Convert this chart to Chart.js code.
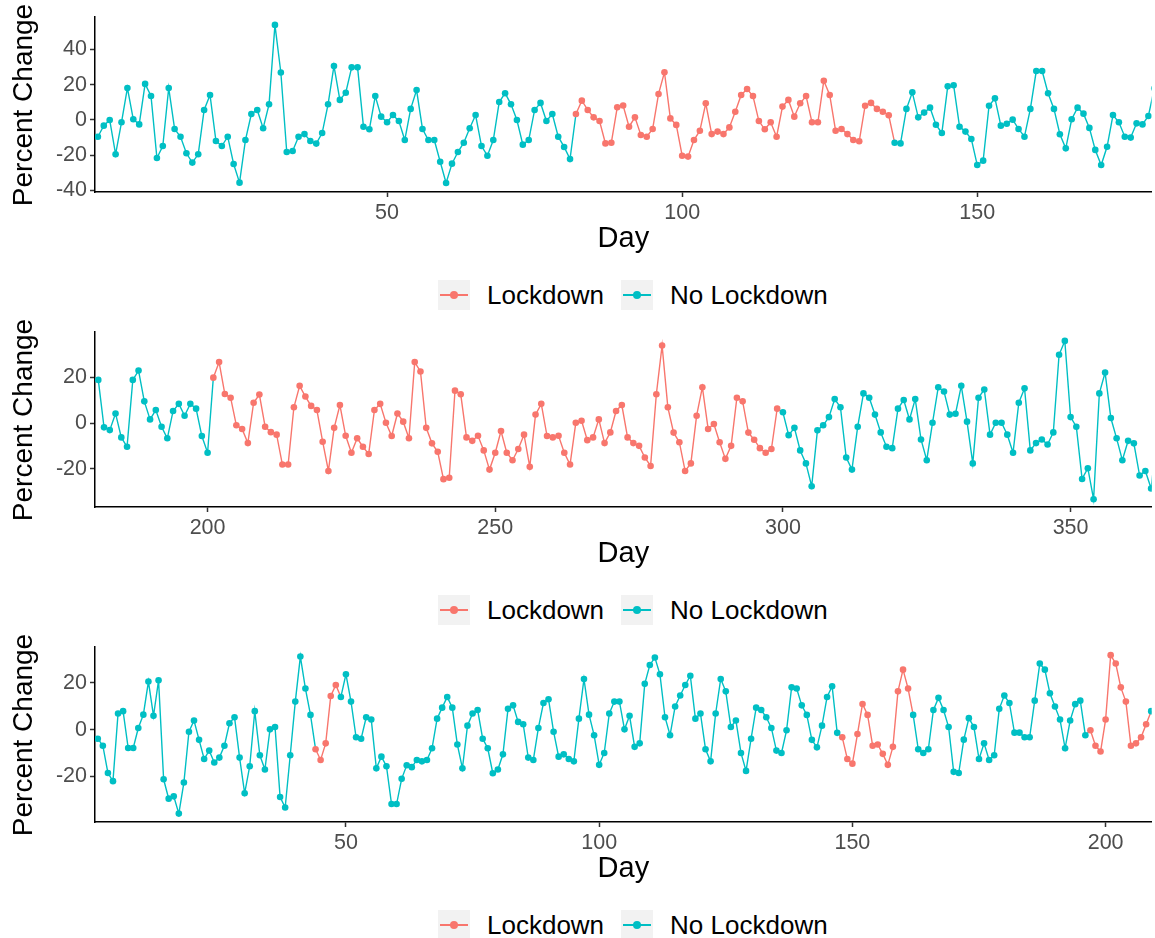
<!DOCTYPE html>
<html>
<head>
<meta charset="utf-8">
<script src="https://cdn.jsdelivr.net/npm/chart.js@4.4.0/dist/chart.umd.min.js"></script>
<style>
body { margin:0; background:#fff; width:1155px; height:938px; position:relative; overflow:hidden; font-family:"Liberation Sans", Arial, sans-serif; }
.panel { position:absolute; left:0; width:1155px; height:260px; }
.panel canvas { position:absolute; left:0; top:0; }
.ytitle { position:absolute; left:-127px; top:89px; width:300px; height:32px; line-height:32px; text-align:center; font-size:28px; color:#000; transform:rotate(-90deg); white-space:nowrap; }
.legend { position:absolute; left:438px; height:32px; display:flex; align-items:center; font-size:26px; color:#000; }
.key { width:32px; height:30px; background:#f2f2f2; position:relative; margin-right:17px; }
.key .ln { position:absolute; left:2px; right:2px; top:14px; height:1.5px; }
.key .dot { position:absolute; left:12px; top:11px; width:8px; height:8px; border-radius:50%; }
.gap { width:17px; }
</style>
</head>
<body>

<div class="panel" style="top:0px"><canvas id="c1" width="1155" height="260"></canvas><div class="ytitle">Percent Change</div></div>
<div class="legend" style="top:279px"><div class="key"><div class="ln" style="background:#F8766D"></div><div class="dot" style="background:#F8766D"></div></div><span>Lockdown</span><div class="gap"></div><div class="key"><div class="ln" style="background:#00BFC4"></div><div class="dot" style="background:#00BFC4"></div></div><span>No Lockdown</span></div>

<div class="panel" style="top:315px"><canvas id="c2" width="1155" height="260"></canvas><div class="ytitle">Percent Change</div></div>
<div class="legend" style="top:594px"><div class="key"><div class="ln" style="background:#F8766D"></div><div class="dot" style="background:#F8766D"></div></div><span>Lockdown</span><div class="gap"></div><div class="key"><div class="ln" style="background:#00BFC4"></div><div class="dot" style="background:#00BFC4"></div></div><span>No Lockdown</span></div>

<div class="panel" style="top:630px"><canvas id="c3" width="1155" height="260"></canvas><div class="ytitle">Percent Change</div></div>
<div class="legend" style="top:909px"><div class="key"><div class="ln" style="background:#F8766D"></div><div class="dot" style="background:#F8766D"></div></div><span>Lockdown</span><div class="gap"></div><div class="key"><div class="ln" style="background:#00BFC4"></div><div class="dot" style="background:#00BFC4"></div></div><span>No Lockdown</span></div>

<script>
// first panel: days 1..180
var start1 = 1;
var values1 = [-9.5,-3.2,0,-19.5,-1.3,18.2,0.4,-2.5,20.5,13.6,
  -21.6,-14.8,18.2,-5.1,-9.5,-18.9,-24.2,-19.5,5.7,14.2,
  -11.9,-14.8,-9.5,-25,-35.6,-11.4,3.4,5.7,-4.7,8.9,
  54,27,-18.2,-17.6,-9.5,-8,-11.9,-13.4,-7.4,8.9,
  30.7,11.4,15.5,29.9,29.9,-3.8,-5.3,13.6,1.9,-1.3,
  2.8,-0.6,-11.4,6.3,17,-5.1,-11.4,-11.4,-23.7,-35.8,
  -24.8,-18.2,-12.9,-4.7,2.8,-14.8,-20.3,-11.4,10.2,15.2,
  8.9,0,-14,-11.4,5.7,9.7,-0.6,3.4,-9.5,-15.3,
  -22.2,3.4,11,5.7,1.5,-0.6,-13.3,-12.9,7.2,8.2,
  -3.8,1.5,-8.5,-9.5,-5.1,14.8,27.1,0.9,-2.8,-20.3,
  -20.8,-11.4,-6.1,9.5,-8,-6.6,-8,-4.2,4.7,14.2,
  17.6,13.6,-0.6,-5.3,-1.3,-9.5,7.6,11.4,1.9,9.5,
  13.6,-1.3,-1.3,22.3,14.2,-6.1,-5.1,-8,-11.4,-12.1,
  8.1,9.7,6.3,4.7,2.7,-12.9,-13.3,6.3,15.7,1.5,
  4.2,7,-2.7,-7.4,19.1,19.7,-3.8,-6.6,-10.8,-25.6,
  -23.1,8.1,12.3,-3.2,-2.1,0.2,-5.1,-9.5,6.3,27.8,
  27.8,15.2,6.3,-8.1,-16.1,0.4,7,3.6,-4.5,-17,
  -25.6,-15.2,2.8,-1.3,-9.5,-10,-1.9,-2.5,2.3,18];
var lockdown1 = [[82, 135]];
var xTicks1 = [50, 100, 150];
var yTicks1 = [-40, -20, 0, 20, 40];

// second panel: days 181..365
var start2 = 181;
var values2 = [18.9,-1.9,-3.1,4.2,-6.3,-10.4,18.9,23,9.5,1.6,
  5.7,-1.6,-6.7,5.3,8.4,3.2,8.4,6.3,-5.7,-13,
  19.9,26.7,12.7,11.1,-1,-2.6,-8.8,8.9,12.5,-1.6,
  -4,-5.1,-18.2,-18.2,6.9,16.3,11.6,7.5,5.7,-8.2,
  -21,-2.1,7.9,-5.6,-13,-6.7,-10.4,-13.6,5.7,8.4,
  0.1,-5.7,4.2,0.6,-6.7,26.7,22.6,-2.1,-8.9,-12.6,
  -24.6,-24,14.2,12.6,-6.3,-7.8,-5.6,-12,-20.4,-13,
  -3.5,-13,-16.3,-11.4,-5.1,-19.2,3.7,8.4,-5.7,-6.3,
  -5.6,-13,-18.2,0.1,1,-7.5,-6.3,1.6,-8.8,-4.1,
  5.3,7.9,-6.3,-8.8,-10,-15.1,-18.8,12.6,34,6.9,
  -4.2,-8.4,-21,-17.7,3.2,15.7,-2.6,-0.4,-8.4,-15.7,
  -10,11.1,9.5,-4.2,-7.3,-11,-13,-11.4,6.3,4.7,
  -5.3,-2.1,-12,-17.7,-27.7,-3.2,-1,2.6,10.5,6.9,
  -15.1,-20.4,-1.6,13,11.1,3.7,-4.1,-10.4,-11,6.3,
  10.1,1.6,10.5,-7.2,-16.3,0.1,15.7,13.8,3.7,4.1,
  16.3,0.6,-17.7,11.1,14.7,-5.1,0.1,0.1,-5.1,-13,
  8.9,15.2,-12,-8.8,-7.2,-9.4,-4.1,29.9,36,2.6,
  -1.6,-24.5,-19.8,-33.4,13,22.1,2.2,-6.7,-16.3,-7.8,
  -8.9,-23,-21,-28.7,-6];
var lockdown2 = [[201, 299]];
var xTicks2 = [200, 250, 300, 350];
var yTicks2 = [-20, 0, 20];

// third panel: days 1..209
var start3 = 1;
var values3 = [-3.9,-6.9,-18.6,-22.1,6.9,7.9,-7.9,-7.9,0.7,6.4,
  20.6,5.9,21.1,-21.3,-29.6,-28.6,-36,-22.7,-0.9,3.9,
  -4.4,-12.6,-9,-14.1,-12,-6.9,2.7,5.3,-12,-27.3,
  -15.7,7.9,-11,-17.1,0.1,1.1,-28.9,-33.4,-11,12,
  31.3,17.6,6.3,-8.4,-13,-5.9,14.4,19.1,14,23.7,
  12,-3.3,-3.9,5.3,4.3,-16.6,-11.6,-15.7,-31.9,-31.9,
  -21.1,-15.3,-16.1,-13,-13.6,-13,-8,4.7,9.4,14,
  9.4,-6.4,-16.6,1.7,6.9,8.4,-3.9,-8,-18.7,-17.1,
  -10.6,8.9,10.4,3.3,2.3,-12,-13,0.7,11.4,13,
  -0.9,-11.6,-10.6,-12.6,-13.6,4.7,21.7,6.4,-2.4,-15.1,
  -10,6.9,12,12,0.1,5.9,-7.4,-5.9,19.6,27.7,
  30.9,23.7,5.3,-2.4,9.9,14.6,19.1,23.1,4.7,6.9,
  -8.4,-13.6,6.9,21.7,16.4,1.1,3.9,-10,-17.7,-3.9,
  9.4,8.4,5.3,0.7,-9,-10,-0.3,18.1,17.6,10.4,
  6.3,-4.4,-7.6,1.7,14,18.6,-1.4,-3.3,-12.6,-14.6,
  -1.9,11,6.3,-6.9,-6.4,-10.4,-15.1,-7.4,16.4,25.7,
  17.6,6.3,-8.4,-10,-8.4,8.4,13.6,8.4,1.1,-18.1,
  -18.6,-4.3,4.9,1.1,-12.6,-5.9,-13,-11,8.9,14.6,
  11.4,-1.3,-1.3,-3.3,-3.3,12.4,28.3,25.7,15.6,9.9,
  4.3,-8,3.9,10.9,12.4,-2.4,-0.3,-6.9,-9.4,4.3,
  31.9,28.3,18.1,12,-6.9,-5.9,-3.3,2.3,7.9];
var lockdown3 = [[44, 48], [148, 161], [197, 208]];
var xTicks3 = [50, 100, 150, 200];
var yTicks3 = [-20, 0, 20];

var RED = '#F8766D';
var CYAN = '#00BFC4';
var FONT = '"Liberation Sans", Arial, sans-serif';

function isLockdown(day, ranges) {
    for (let r of ranges) {
        if (day >= r[0] && day <= r[1]) return true;
    }
    return false;
}

function drawPanel(id, start, values, ranges, xr, xTicks, yr, yTicks) {
    let pts = [];
    let cols = [];
    for (let i in values) {
        let day = start + Number(i);
        pts.push({x: day, y: values[i]});
        cols.push(isLockdown(day, ranges) ? RED : CYAN);
    }
    new Chart(document.getElementById(id), {
        type: 'line',
        data: {
            datasets: [{
                data: pts,
                borderWidth: 1.4,
                borderColor: CYAN,
                segment: { borderColor: ctx => cols[ctx.p0DataIndex] },
                pointRadius: 3.3,
                pointHoverRadius: 3.3,
                pointBorderWidth: 0,
                pointBackgroundColor: cols,
                pointBorderColor: cols,
                tension: 0
            }]
        },
        options: {
            responsive: false,
            animation: false,
            events: [],
            layout: { padding: { top: 17, left: 0, right: 0, bottom: 0 } },
            plugins: { legend: { display: false }, tooltip: { enabled: false } },
            scales: {
                x: {
                    type: 'linear',
                    min: xr[0],
                    max: xr[1],
                    afterBuildTicks: s => { s.ticks = xTicks.map(v => ({value: v})); },
                    afterFit: s => { s.height = 68; },
                    border: { color: '#000', width: 1.5 },
                    grid: { drawOnChartArea: false, tickLength: 5, tickColor: '#333', tickWidth: 1.5 },
                    ticks: { color: '#4D4D4D', font: { size: 21.5, family: FONT }, padding: 3, maxRotation: 0, autoSkip: false },
                    title: { display: true, text: 'Day', color: '#000', font: { size: 29, family: FONT }, padding: { top: 0, bottom: 4 } }
                },
                y: {
                    min: yr[0],
                    max: yr[1],
                    afterBuildTicks: s => { s.ticks = yTicks.map(v => ({value: v})); },
                    afterFit: s => { s.width = 95; },
                    border: { color: '#000', width: 1.5 },
                    grid: { drawOnChartArea: false, tickLength: 5, tickColor: '#333', tickWidth: 1.5 },
                    ticks: { color: '#4D4D4D', font: { size: 21.5, family: FONT }, padding: 3 }
                }
            }
        }
    });
}

drawPanel('c1', start1, values1, lockdown1, [0.51, 179.56], xTicks1, [-40.9, 58.5], yTicks1);
drawPanel('c2', start2, values2, lockdown2, [180.43, 364.1], xTicks2, [-36.8, 39.9], yTicks2);
drawPanel('c3', start3, values3, lockdown3, [0.45, 209.1], xTicks3, [-39.6, 35.4], yTicks3);
</script>
</body>
</html>
